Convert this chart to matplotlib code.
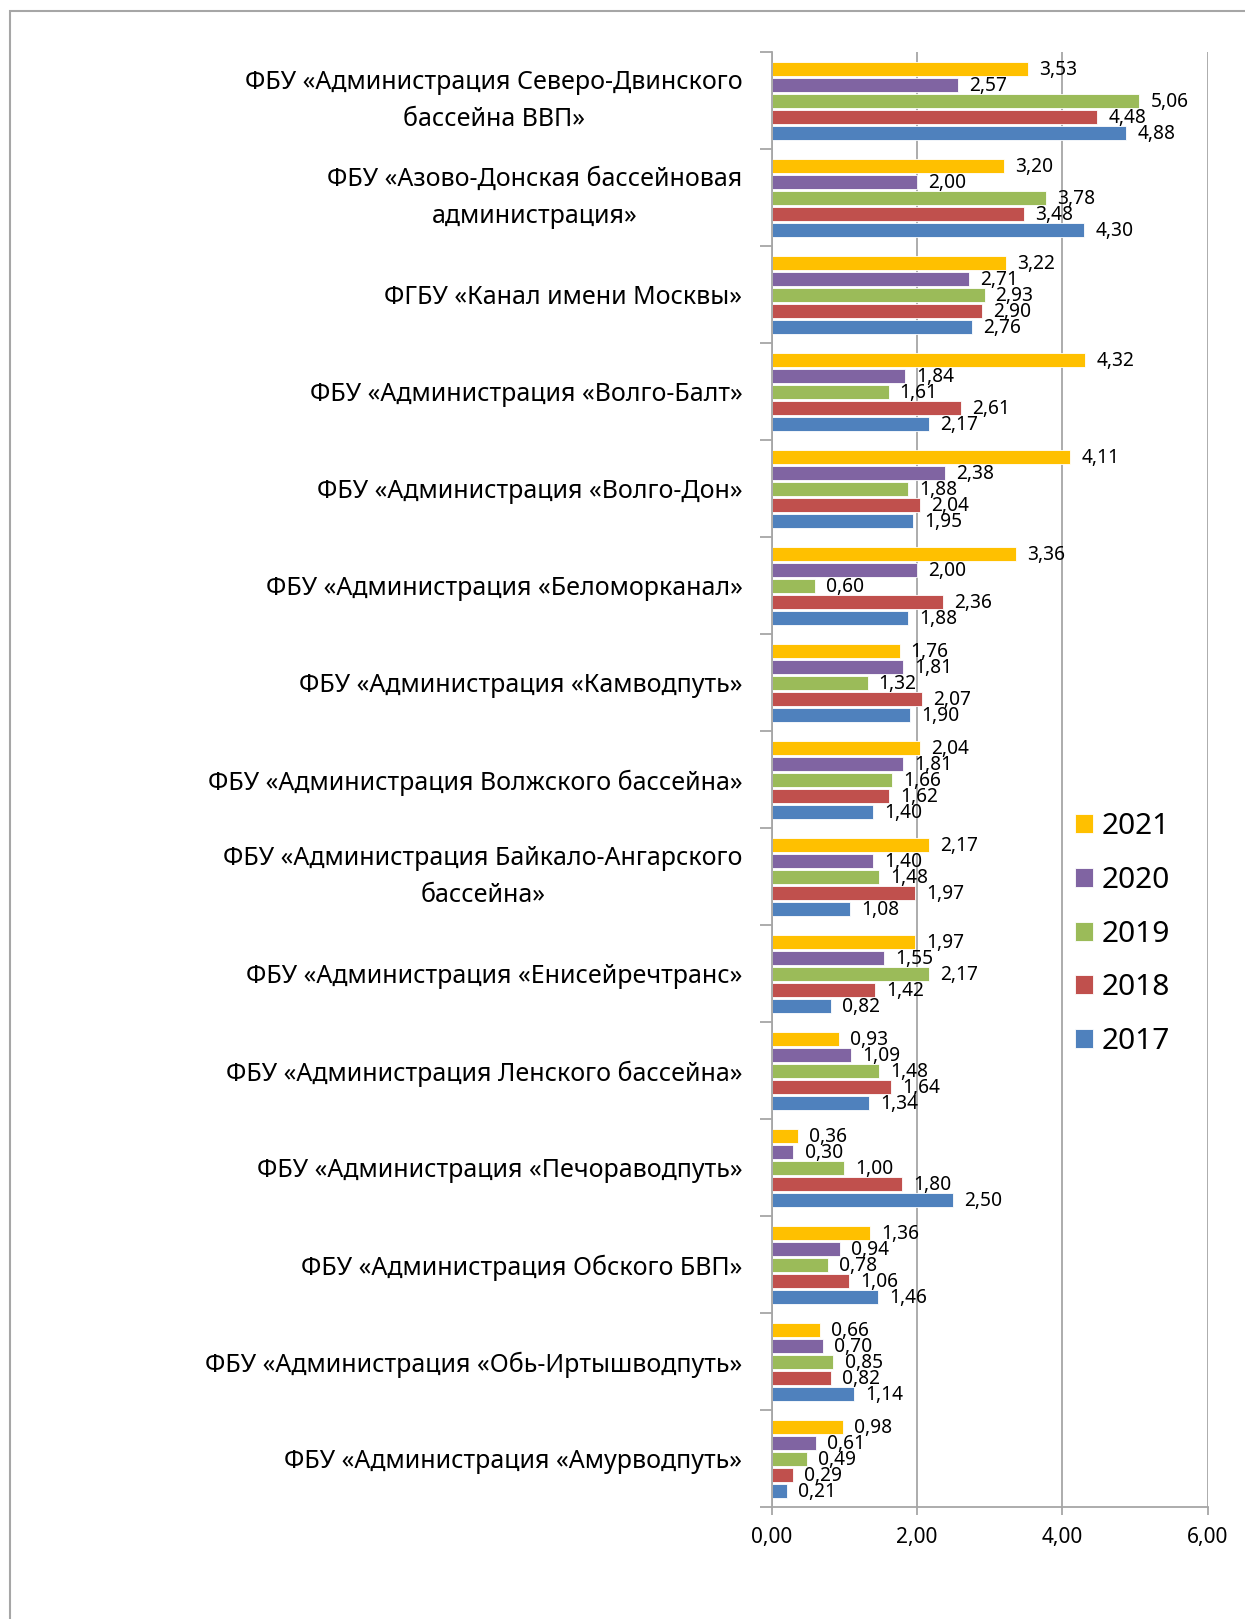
import matplotlib
matplotlib.use("Agg")
import matplotlib.pyplot as plt
import numpy as np
from matplotlib.patches import Rectangle

categories = [
    "ФБУ «Администрация Северо-Двинского\nбассейна ВВП»",
    "ФБУ «Азово-Донская бассейновая\nадминистрация»",
    "ФГБУ «Канал имени Москвы»",
    "ФБУ «Администрация «Волго-Балт»",
    "ФБУ «Администрация «Волго-Дон»",
    "ФБУ «Администрация «Беломорканал»",
    "ФБУ «Администрация «Камводпуть»",
    "ФБУ «Администрация Волжского бассейна»",
    "ФБУ «Администрация Байкало-Ангарского\nбассейна»",
    "ФБУ «Администрация «Енисейречтранс»",
    "ФБУ «Администрация Ленского бассейна»",
    "ФБУ «Администрация «Печораводпуть»",
    "ФБУ «Администрация Обского БВП»",
    "ФБУ «Администрация «Обь-Иртышводпуть»",
    "ФБУ «Администрация «Амурводпуть»",
]
years = ["2021", "2020", "2019", "2018", "2017"]
v2021 = [3.53, 3.20, 3.22, 4.32, 4.11, 3.36, 1.76, 2.04, 2.17, 1.97, 0.93, 0.36, 1.36, 0.66, 0.98]
v2020 = [2.57, 2.00, 2.71, 1.84, 2.38, 2.00, 1.81, 1.81, 1.40, 1.55, 1.09, 0.30, 0.94, 0.70, 0.61]
v2019 = [5.06, 3.78, 2.93, 1.61, 1.88, 0.60, 1.32, 1.66, 1.48, 2.17, 1.48, 1.00, 0.78, 0.85, 0.49]
v2018 = [4.48, 3.48, 2.90, 2.61, 2.04, 2.36, 2.07, 1.62, 1.97, 1.42, 1.64, 1.80, 1.06, 0.82, 0.29]
v2017 = [4.88, 4.30, 2.76, 2.17, 1.95, 1.88, 1.90, 1.40, 1.08, 0.82, 1.34, 2.50, 1.46, 1.14, 0.21]
xticks = [0, 2, 4, 6]

colors = ["#FFC000", "#8064A2", "#9BBB59", "#C0504D", "#4F81BD"]
gray = "#A6A6A6"

plt.rcParams['font.family'] = ['Noto Sans', 'DejaVu Sans']

fig = plt.figure(figsize=(12.45, 16.19), dpi=100)
ax = fig.add_axes([0.6198, 0.0689, 0.3501, 0.8987])

y = np.arange(len(categories))
slot = 16 / 97
h = 13.3 / 97
series = [v2021, v2020, v2019, v2018, v2017]
for i, (yr, vals, col) in enumerate(zip(years, series, colors)):
    pos = y + (i - 2) * slot
    ax.barh(pos, vals, height=h, color=col, label=yr, edgecolor='white', linewidth=0.6)
    for p, v in zip(pos, vals):
        ax.annotate(f"{v:.2f}".replace('.', ','), (v, p), xytext=(8, -1),
                    textcoords='offset points', va='center', ha='left', fontsize=13.8)

ax.set_xlim(0, 6)
ax.set_ylim(len(categories) - 0.5, -0.5)
ax.set_xticks(xticks)
ax.set_xticklabels([f"{t:.2f}".replace('.', ',') for t in xticks], fontsize=15)
ax.xaxis.grid(True, color=gray, linewidth=1.3)
ax.set_axisbelow(True)

ax.set_yticks(y)
ax.set_yticklabels(categories, fontsize=18, linespacing=1.65)
for t in ax.get_yticklabels():
    t.set_multialignment('center')
    if '\n' in t.get_text():
        t.set_verticalalignment('center')
ax.set_yticks(np.arange(-0.5, len(categories), 1), minor=True)
ax.tick_params(axis='y', which='major', length=0, pad=21)
ax.tick_params(axis='y', which='minor', length=8.5, width=1.3, color=gray)
ax.tick_params(axis='x', length=6, width=1.3, color=gray, pad=8)

for s in ['top', 'right']:
    ax.spines[s].set_visible(False)
for s in ['left', 'bottom']:
    ax.spines[s].set_color(gray)
    ax.spines[s].set_linewidth(1.3)

ax.legend(loc='upper left', bbox_to_anchor=(1075 / 1245, 1 - 812 / 1619),
          bbox_transform=fig.transFigure, frameon=False, fontsize=21.5,
          handlelength=0.6, handleheight=0.6, handletextpad=0.3,
          labelspacing=0.83, borderpad=0, borderaxespad=0)

fig.add_artist(Rectangle((10 / 1245, -0.1), 2, 1 - 11 / 1619 + 0.1, transform=fig.transFigure,
                         fill=False, edgecolor=gray, linewidth=1.5))

fig.savefig("out.png", dpi=100)
